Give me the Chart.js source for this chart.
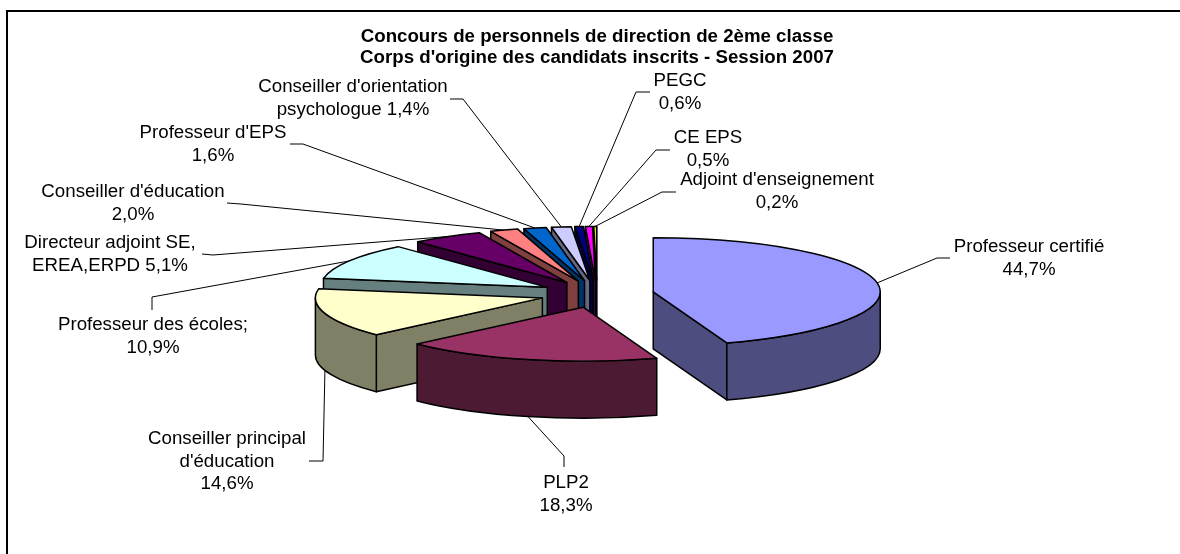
<!DOCTYPE html>
<html>
<head>
<meta charset="utf-8">
<style>
  html, body { margin: 0; padding: 0; background: #fff; }
  canvas { display: block; }
</style>
<script src="https://cdn.jsdelivr.net/npm/chart.js@4"></script>
</head>
<body>
<canvas id="chart" width="1180" height="554"></canvas>
<script>
// --- Data ---
const categories = ['Professeur certifié', 'PLP2', 'Conseiller principal d\'éducation', 'Professeur des écoles',
  'Directeur adjoint SE, EREA,ERPD', 'Conseiller d\'éducation', 'Professeur d\'EPS',
  'Conseiller d\'orientation psychologue', 'PEGC', 'CE EPS', 'Adjoint d\'enseignement'];
const shares = [44.7, 18.3, 14.6, 10.9, 5.1, 2.0, 1.6, 1.4, 0.6, 0.5, 0.2];
const colors = ['#9999FF', '#993366', '#FFFFCC', '#CCFFFF', '#660066', '#FF8080',
  '#0066CC', '#CCCCFF', '#000080', '#FF00FF', '#FFFF00'];
const titleLines = ['Concours de personnels de direction de 2ème classe',
  'Corps d\'origine des candidats inscrits - Session 2007'];
const labelLines = [
  ['Professeur certifié', '44,7%'],
  ['PLP2', '18,3%'],
  ['Conseiller principal', 'd\'éducation', '14,6%'],
  ['Professeur des écoles;', '10,9%'],
  ['Directeur adjoint SE,', 'EREA,ERPD 5,1%'],
  ['Conseiller d\'éducation', '2,0%'],
  ['Professeur d\'EPS', '1,6%'],
  ['Conseiller d\'orientation', 'psychologue 1,4%'],
  ['PEGC', '0,6%'],
  ['CE EPS', '0,5%'],
  ['Adjoint d\'enseignement', '0,2%']
];

// --- Label placement: text centre, first baseline, leader knee and end ---
const labelSpots = [
  { x: 1029, y: 252, knee: [937, 258], end: [950, 258] },
  { x: 566, y: 488, knee: [564, 456], end: [564, 467] },
  { x: 227, y: 444, knee: [323, 461], end: [309, 461] },
  { x: 153, y: 330, knee: [152, 297], end: [152, 310] },
  { x: 110, y: 248, knee: [213, 255], end: [202, 254] },
  { x: 133, y: 197, knee: [241, 204], end: [227, 203] },
  { x: 213, y: 138, knee: [303, 144], end: [290, 144] },
  { x: 353, y: 92, knee: [463, 99], end: [450, 99] },
  { x: 680, y: 86, knee: [636, 92], end: [650, 92] },
  { x: 708, y: 143, knee: [656, 150], end: [670, 150] },
  { x: 777, y: 185, knee: [662, 192], end: [676, 192] }
];
const LINE_HEIGHT = 22.5;
const FLATTEN = 0.238;   // height of the pie ellipse against its width
const DEPTH = 57;

function darker(hex) {
  const n = parseInt(hex.slice(1), 16);
  const half = v => Math.round(v / 2);
  return `rgb(${half(n >> 16)},${half((n >> 8) & 255)},${half(n & 255)})`;
}

// Ellipse geometry of one slice, from the arc the library laid out
function sliceShape(arc) {
  const mid = (arc.startAngle + arc.endAngle) / 2;
  const off = arc.options.offset || 0;
  return {
    cx: arc.x + Math.cos(mid) * off,
    cy: arc.y + Math.sin(mid) * off * FLATTEN,
    rx: arc.outerRadius,
    ry: arc.outerRadius * FLATTEN,
    start: arc.startAngle,
    end: arc.endAngle,
    mid
  };
}

function rimPoint(s, a) {
  return [s.cx + Math.cos(a) * s.rx, s.cy + Math.sin(a) * s.ry];
}

function radialFace(ctx, s, a) {
  const p = rimPoint(s, a);
  ctx.beginPath();
  ctx.moveTo(s.cx, s.cy);
  ctx.lineTo(p[0], p[1]);
  ctx.lineTo(p[0], p[1] + DEPTH);
  ctx.lineTo(s.cx, s.cy + DEPTH);
  ctx.closePath();
  ctx.fill();
  ctx.stroke();
}

function drawSlice(ctx, s, color) {
  ctx.strokeStyle = '#000';
  ctx.lineWidth = 1.5;
  ctx.lineJoin = 'round';
  ctx.fillStyle = darker(color);
  if (Math.cos(s.start) < 0) radialFace(ctx, s, s.start);
  if (Math.cos(s.end) > 0) radialFace(ctx, s, s.end);
  // outer wall, only the part that faces the viewer
  const from = Math.max(s.start, 0);
  const to = Math.min(s.end, Math.PI);
  if (to > from) {
    ctx.beginPath();
    ctx.ellipse(s.cx, s.cy, s.rx, s.ry, 0, from, to);
    ctx.ellipse(s.cx, s.cy + DEPTH, s.rx, s.ry, 0, to, from, true);
    ctx.closePath();
    ctx.fill();
    ctx.stroke();
  }
  // top face
  ctx.fillStyle = color;
  ctx.beginPath();
  ctx.moveTo(s.cx, s.cy);
  ctx.ellipse(s.cx, s.cy, s.rx, s.ry, 0, s.start, s.end);
  ctx.closePath();
  ctx.fill();
  ctx.stroke();
}

function drawLabel(ctx, s, lines, spot) {
  const a = rimPoint(s, s.mid);
  if (Math.sin(s.mid) > 0) a[1] += DEPTH;
  ctx.strokeStyle = '#000';
  ctx.lineWidth = 1;
  ctx.beginPath();
  ctx.moveTo(a[0], a[1]);
  ctx.lineTo(spot.knee[0], spot.knee[1]);
  ctx.lineTo(spot.end[0], spot.end[1]);
  ctx.stroke();
  ctx.fillStyle = '#000';
  ctx.font = '18.7px "Liberation Sans"';
  ctx.textAlign = 'center';
  ctx.textBaseline = 'alphabetic';
  lines.forEach((t, i) => ctx.fillText(t, spot.x, spot.y + i * LINE_HEIGHT));
}

const pie3d = {
  id: 'pie3d',
  beforeDraw(chart) {
    const ctx = chart.ctx;
    ctx.save();
    ctx.fillStyle = '#fff';
    ctx.fillRect(0, 0, chart.width, chart.height);
    ctx.strokeStyle = '#000';
    ctx.lineWidth = 2;
    ctx.beginPath();
    ctx.moveTo(7, chart.height);
    ctx.lineTo(7, 11);
    ctx.lineTo(chart.width, 11);
    ctx.stroke();
    ctx.restore();
  },
  beforeDatasetDraw() {
    return false; // slices are drawn below, in 3D
  },
  afterDatasetsDraw(chart) {
    const ctx = chart.ctx;
    const arcs = chart.getDatasetMeta(0).data;
    const shapes = arcs.map(sliceShape);
    ctx.save();
    // back to front: first slice, then the rest from the last one down
    const order = [0];
    for (let i = arcs.length - 1; i > 0; i--) order.push(i);
    order.forEach(i => drawSlice(ctx, shapes[i], colors[i]));
    shapes.forEach((s, i) => drawLabel(ctx, s, labelLines[i], labelSpots[i]));
    ctx.restore();
  }
};

new Chart(document.getElementById('chart'), {
  type: 'pie',
  plugins: [pie3d],
  data: {
    labels: categories,
    datasets: [{ data: shares, backgroundColor: colors, offset: 57, radius: 227 }]
  },
  options: {
    responsive: false,
    animation: false,
    events: [],
    layout: { padding: { left: 14, bottom: 37 } },
    plugins: {
      legend: { display: false },
      tooltip: { enabled: false },
      title: {
        display: true,
        text: titleLines,
        color: '#000',
        font: { family: '"Liberation Sans"', size: 18.7, weight: 'bold', lineHeight: 1.123 },
        padding: { top: 26, bottom: 3 }
      }
    }
  }
});
</script>
</body>
</html>
